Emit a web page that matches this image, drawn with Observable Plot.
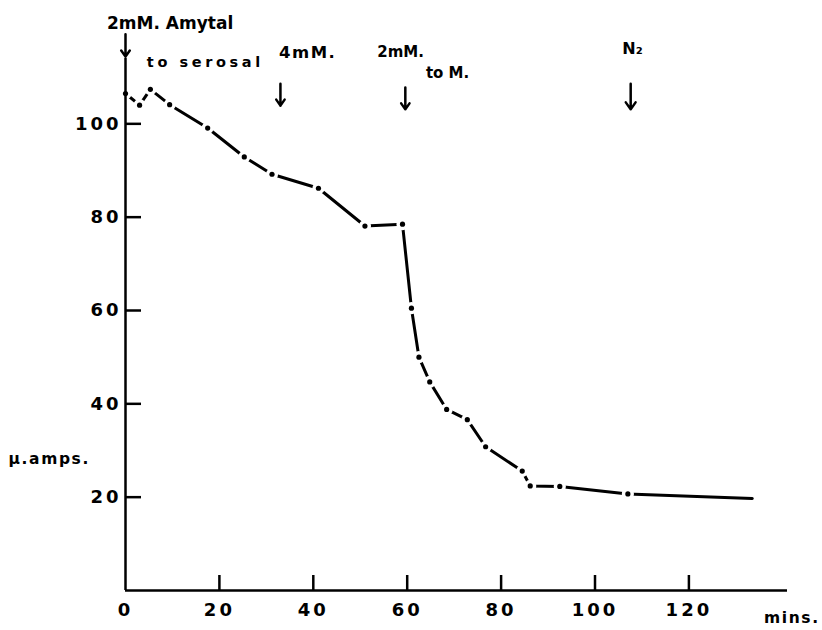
<!DOCTYPE html>
<html><head><meta charset="utf-8">
<script src="https://cdn.jsdelivr.net/npm/d3@7"></script>
<script src="https://cdn.jsdelivr.net/npm/@observablehq/plot@0.6"></script>
<style>
body{margin:0;background:#fff}
svg g[aria-label="x-axis tick label"] text, svg g[aria-label="y-axis tick label"] text {letter-spacing:3px}
svg g[aria-label="text"][font-size="14.5"] text {letter-spacing:3.6px}
svg g[aria-label="text"][font-size="15.5"] text {letter-spacing:1.6px}
svg g[aria-label="text"][font-size="16.5"] text {letter-spacing:1.5px}
</style>
</head><body><div id="chart"></div>
<script>
// Current (µ amps) against time (mins)
const minutes   = [0, 3.0, 5.3, 9.4, 17.5, 25.3, 31.2, 41.1, 51.0, 59.0, 60.9, 62.5, 64.8, 68.4, 72.8, 76.7, 84.5, 86.2, 92.5, 107.0, 133.5];
const microamps = [106.5, 104.0, 107.4, 104.1, 99.1, 92.9, 89.2, 86.2, 78.1, 78.5, 60.5, 50.0, 44.7, 38.8, 36.6, 30.8, 25.6, 22.4, 22.3, 20.7, 19.7];
const xTicks = [0, 20, 40, 60, 80, 100, 120];
const yTicks = [20, 40, 60, 80, 100];
// annotations (in data units: minutes, µ amps)
const noteLabels = ["2mM. Amytal", "to serosal", "4mM.", "2mM.", "to M.", "N₂"];
const noteX = [9.5, 17.0, 38.8, 58.6, 68.6, 108.0];
const noteY = [121.5, 113.1, 115.3, 115.3, 110.8, 116.1];
const arrowX = [0, 33.0, 59.6, 107.6];
const arrowTop = [119.2, 108.6, 107.8, 108.6];
const arrowBottom = [114.4, 103.9, 103.1, 103.1];
const xLabel = "mins.", yLabel = "μ.amps.";
const xLabelAt = [136, -6], yLabelAt = [-24.9, 28.2];

const pts = minutes.map((t, i) => ({t, v: microamps[i]}));
const dotted = pts.slice(0, -1);
const notes = noteLabels.map((s, i) => ({s, x: noteX[i], y: noteY[i]}));
const arrows = arrowX.map((x, i) => ({x, y1: arrowTop[i], y2: arrowBottom[i]}));
const ink = "#000";
const noteMark = (i, opts) => Plot.text([notes[i]], {x: "x", y: "y", text: "s", fontWeight: "bold", fill: ink, ...opts});

const chart = Plot.plot({
  width: 822, height: 630,
  marginLeft: 125, marginRight: 35, marginTop: 58, marginBottom: 40,
  x: {domain: [0, 141]},
  y: {domain: [0, 114]},
  style: {fontFamily: "DejaVu Sans", color: ink, background: "white"},
  marks: [
    Plot.line(pts, {x: "t", y: "v", stroke: ink, strokeWidth: 3}),
    // dot with a white ring that cuts the line on both sides
    Plot.dot(dotted, {x: "t", y: "v", r: 2.6, fill: ink, stroke: "white", strokeWidth: 7, paintOrder: "stroke"}),
    Plot.ruleX([0], {stroke: ink, strokeWidth: 2.5}),
    Plot.ruleY([0], {stroke: ink, strokeWidth: 2.5}),
    // inward tick marks
    Plot.tickX(xTicks.slice(1), {x: d => d, stroke: ink, strokeWidth: 2.5, insetTop: 532 - 15}),
    Plot.tickY(yTicks, {y: d => d, stroke: ink, strokeWidth: 2.5, insetRight: 662 - 16}),
    Plot.axisX(xTicks, {tickSize: 0, tickPadding: 13, fontSize: 18, fontWeight: "bold", label: null}),
    Plot.axisY(yTicks, {tickSize: 0, tickPadding: 4, fontSize: 18, fontWeight: "bold", label: null}),
    noteMark(0, {fontSize: 17}),
    noteMark(1, {fontSize: 14.5}),
    noteMark(2, {fontSize: 16.5}),
    noteMark(3, {fontSize: 15}),
    noteMark(4, {fontSize: 15}),
    noteMark(5, {fontSize: 16}),
    Plot.arrow(arrows, {x: "x", y1: "y1", y2: "y2", stroke: ink, strokeWidth: 2.5, headLength: 9, headAngle: 70}),
    Plot.text([xLabel], {x: [xLabelAt[0]], y: [xLabelAt[1]], textAnchor: "start", fontSize: 15.5, fontWeight: "bold"}),
    Plot.text([yLabel], {x: [yLabelAt[0]], y: [yLabelAt[1]], textAnchor: "start", fontSize: 15.5, fontWeight: "bold"})
  ]
});
document.getElementById("chart").append(chart);
</script>
</body></html>
